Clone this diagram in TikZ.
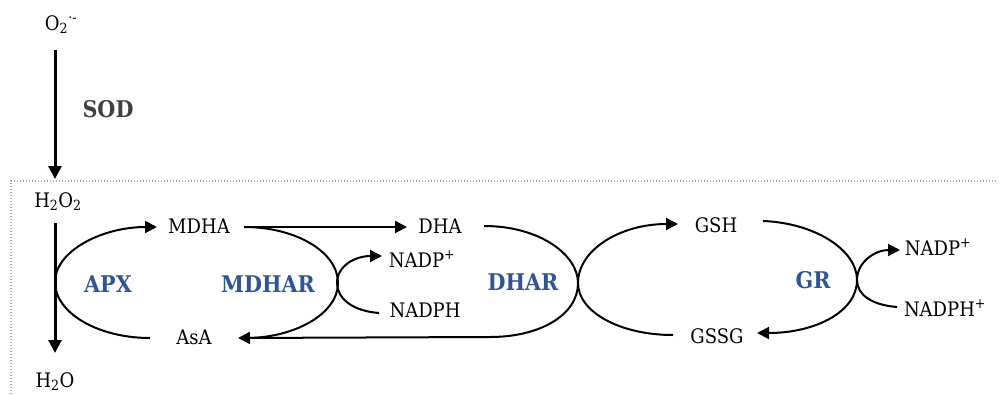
\documentclass[tikz,border=0pt]{standalone}
\usepackage{fontspec}
\setmainfont{DejaVu Serif Condensed}
\usetikzlibrary{arrows.meta,calc}
\definecolor{enzblue}{HTML}{2F5597}
\definecolor{sodgray}{HTML}{404040}
\begin{document}
\begin{tikzpicture}[x=1pt,y=-1pt,
  lbl/.style={anchor=base,inner sep=0pt,font=\fontsize{20}{22}\selectfont},
  enz/.style={anchor=base,inner sep=0pt,font=\fontsize{23}{26}\selectfont\bfseries,text=enzblue},
  conn/.style={line width=2pt},
  arr/.style={line width=2pt,-{Triangle[length=12pt,width=12pt]}},
  varr/.style={line width=3pt,-{Triangle[length=13pt,width=13pt]}},
  frame/.style={draw=gray!70,line width=1.3pt,dash pattern=on 1.3pt off 1.7pt}]
\useasboundingbox (0,0) rectangle (1000,394);
\draw[frame] (11,394) -- (11,181) -- (998,181);
% nodes
\node[lbl] (O2) at (61,30) {O\textsubscript{2}\textsuperscript{·-}};
\node[lbl] (H2O2) at (58,207) {H\textsubscript{2}O\textsubscript{2}};
\node[lbl] (H2O) at (55,387) {H\textsubscript{2}O};
\node[lbl] (MDHA) at (199,233) {MDHA};
\node[lbl] (AsA) at (194,344) {AsA};
\node[lbl] (DHA) at (440,233) {DHA};
\node[lbl] (NADP1) at (422,267) {NADP\textsuperscript{+}};
\node[lbl] (NADPH1) at (425,317) {NADPH};
\node[lbl] (GSH) at (716,232) {GSH};
\node[lbl] (GSSG) at (717,343) {GSSG};
\node[lbl] (NADP2) at (938,255) {NADP\textsuperscript{+}};
\node[lbl] (NADPH2) at (945,316) {NADPH\textsuperscript{+}};
\node[enz,text=sodgray] (SOD) at (108,117) {SOD};
\node[enz] (APX) at (108,292) {APX};
\node[enz] (MDHAR) at (268,292) {MDHAR};
\node[enz] (DHAR) at (523,290) {DHAR};
\node[enz] (GR) at (813,288) {GR};
% vertical arrows
\draw[varr] ($(O2.base)+(-6,20)$) -- ($(H2O2.base)+(-3,-28)$);
\draw[varr] ($(H2O2.base)+(-3,16)$) -- ($(H2O.base)+(0,-34)$);
% APX
\draw[arr] ($(AsA.base)+(-44,-6)$) .. controls (98,338) and (55,313) .. (55,282)
  .. controls (55,251) and (102,227) .. ($(MDHA.base)+(-42,-6)$);
% MDHAR
\draw[conn] ($(MDHA.base)+(45,-6)$) .. controls (296,227) and (338,252) .. (338,283)
  .. controls (338,314) and (294,338) .. ($(AsA.base)+(52,-6)$);
% MDHA -> DHA
\draw[arr] ($(MDHA.base)+(45,-6)$) -- ($(DHA.base)+(-33,-6)$);
% NADPH -> NADP+ (left)
\draw[arr] ($(NADPH1.base)+(-46,-4)$) .. controls (352,311) and (337,298) .. (337,283)
  .. controls (337,266) and (355,256) .. ($(NADP1.base)+(-40,-11)$);
% DHAR
\draw[arr] ($(DHA.base)+(44,-7)$) .. controls (540,226) and (578,255) .. (578,283)
  .. controls (578,315) and (540,337) .. (490,337) -- ($(AsA.base)+(44,-6)$);
% GSSG -> GSH
\draw[arr] ($(GSSG.base)+(-44,-8)$) .. controls (620,335) and (578,312) .. (578,283)
  .. controls (578,250) and (620,224) .. ($(GSH.base)+(-38,-8)$);
% GR
\draw[arr] ($(GSH.base)+(47,-11)$) .. controls (815,223) and (857,250) .. (857,280)
  .. controls (857,312) and (815,333) .. ($(GSSG.base)+(40,-10)$);
% NADPH+ -> NADP+ (right)
\draw[arr] ($(NADPH2.base)+(-48,-9)$) .. controls (872,305) and (857,295) .. (857,280)
  .. controls (857,262) and (875,250) .. ($(NADP2.base)+(-38,-5)$);
\end{tikzpicture}
\end{document}
